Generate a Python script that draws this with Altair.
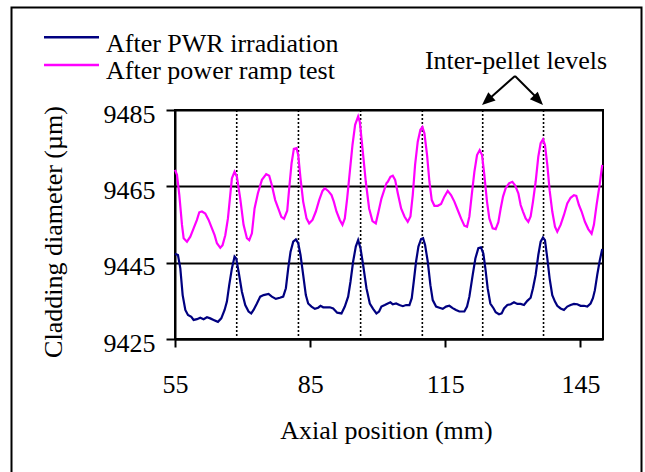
import altair as alt
import pandas as pd

# ---------------- data ----------------
pwr_x = [55.0, 55.66, 56.18, 56.70, 57.29, 57.88, 58.62, 59.13, 59.87, 60.61, 61.35, 62.09, 62.83, 63.57,
         64.53, 65.27, 66.01, 66.52, 67.04, 67.63, 68.22, 68.59, 69.11, 69.85, 70.59, 71.33, 71.92, 72.44,
         73.18, 73.92, 74.66, 75.76, 76.50, 77.39,
         78.28, 79.02, 79.61, 80.13, 80.65, 81.24, 81.83, 82.35, 82.86, 83.45, 84.04, 84.56, 85.30, 86.04,
         86.78, 87.30, 87.89, 88.63, 89.37, 90.11, 91.00, 91.95, 92.69, 93.43, 93.95, 94.54, 95.13, 95.65,
         96.17, 96.76, 97.50, 98.24, 98.97, 99.71, 100.30, 100.82, 101.56,
         102.23, 102.82, 103.34, 104.08, 104.82, 105.56, 106.30, 107.03, 107.55, 107.99, 108.51, 109.03,
         109.62, 110.06, 110.51, 111.10, 111.69, 112.21, 112.95, 113.69, 114.43, 115.16, 115.90, 116.64,
         117.38, 118.12, 119.23, 119.82, 120.34, 121.08, 121.67, 122.33, 122.92, 123.44, 123.89, 124.40,
         124.99, 125.73,
         126.18, 126.92, 127.51, 128.03, 128.77, 129.51, 130.25, 130.98, 131.72, 132.46, 133.20, 133.94,
         134.46, 135.05, 135.64, 136.16, 136.68, 137.12, 137.64, 138.15, 138.74, 139.34, 139.85, 140.59,
         141.33, 142.07, 142.81, 143.55, 144.29, 145.03, 145.77, 146.51, 147.24, 147.76, 148.20, 148.72,
         149.24, 149.83]
pwr_um = [9447.3, 9447.0, 9443.5, 9436.5, 9432.6, 9431.3, 9430.8, 9430.0, 9430.2, 9430.6, 9430.2, 9430.7, 9430.4, 9430.0,
          9429.5, 9430.4, 9432.6, 9434.8, 9439.2, 9443.5, 9446.6, 9446.1, 9442.7, 9437.4, 9433.9, 9432.2, 9431.7, 9432.6,
          9434.3, 9436.1, 9436.5, 9436.8, 9436.1, 9435.5,
          9435.8, 9436.1, 9438.3, 9443.5, 9447.9, 9450.5, 9451.1, 9450.1, 9447.0, 9441.8, 9436.5, 9434.3, 9433.5, 9432.9,
          9433.2, 9433.7, 9433.3, 9433.3, 9433.3, 9433.0, 9431.9, 9431.7, 9433.5, 9436.1, 9440.0, 9445.3, 9449.2, 9450.9,
          9448.8, 9444.4, 9438.3, 9434.3, 9432.9, 9431.7, 9432.2, 9433.5, 9433.9,
          9434.3, 9434.6, 9434.1, 9434.3, 9433.9, 9433.6, 9433.9, 9433.9, 9435.7, 9440.0, 9445.3, 9449.2,
          9451.2, 9451.4, 9449.6, 9445.3, 9439.1, 9435.2, 9433.5, 9433.2, 9432.9, 9433.5, 9433.7, 9433.1,
          9432.6, 9432.2, 9432.2, 9433.5, 9436.1, 9441.8, 9446.1, 9448.8, 9449.0, 9447.4, 9443.5, 9438.3,
          9434.3, 9433.0,
          9432.0, 9431.5, 9431.7, 9433.0, 9433.9, 9434.1, 9434.6, 9434.2, 9434.2, 9433.9, 9435.0, 9435.8,
          9438.3, 9441.8, 9447.0, 9450.5, 9451.6, 9450.9, 9446.1, 9440.9, 9436.5, 9434.8, 9433.7, 9433.0,
          9432.6, 9433.5, 9433.9, 9434.2, 9434.1, 9433.7, 9433.7, 9433.5, 9434.3, 9435.7, 9437.8, 9441.8,
          9445.3, 9448.6]

ramp_x = [55.0, 55.44, 55.96, 56.55, 56.92, 57.66, 58.40, 59.13, 59.87, 60.39, 60.98, 61.72, 62.46, 63.20,
          63.79, 64.31, 65.05, 65.56, 66.16, 66.75, 67.26, 67.63, 68.22, 68.74, 69.48, 70.22, 70.96, 71.48,
          72.07, 72.66, 73.40, 74.29, 75.25, 75.91, 76.50, 77.24, 77.98,
          78.6, 79.2, 79.91, 80.35, 80.87, 81.38, 81.98, 82.35, 82.86, 83.45, 84.19, 84.78, 85.52, 86.26,
          87.00, 87.74, 88.26, 89.00, 89.74, 90.25, 90.84, 91.58, 92.17, 92.69, 93.21, 93.80, 94.39, 94.98,
          95.65, 96.02, 96.61, 97.35, 98.09, 98.83, 99.57, 100.08, 100.82, 101.93,
          102.23, 102.82, 103.34, 103.86, 104.45, 105.19, 105.93, 106.66, 107.26, 107.77, 108.29, 108.88,
          109.47, 109.92, 110.36, 110.95, 111.47, 111.99, 112.58, 113.32, 114.06, 114.79, 115.53, 116.27,
          117.01, 117.75, 118.49, 119.23, 119.82, 120.34, 120.86, 121.45, 122.04, 122.63, 123.15, 123.66,
          124.25, 124.77, 125.51,
          126.18, 126.77, 127.29, 127.81, 128.40, 129.14, 129.88, 130.47, 131.21, 131.72, 132.24, 132.83,
          133.42, 133.94, 134.46, 135.05, 135.64, 136.16, 136.68, 137.12, 137.64, 138.15, 138.74, 139.34,
          139.85, 140.59, 141.33, 142.07, 142.81, 143.55, 144.07, 144.66, 145.25, 145.99, 146.73, 147.47,
          147.98, 148.57, 149.24, 149.83]
ramp_um = [9469.3, 9468.0, 9462.7, 9454.9, 9451.4, 9450.5, 9451.8, 9454.0, 9456.2, 9458.2, 9458.4, 9457.9, 9456.2, 9454.0,
           9452.2, 9450.1, 9448.9, 9449.6, 9452.2, 9456.6, 9462.7, 9467.1, 9468.8, 9467.5, 9461.8, 9454.9, 9451.4, 9450.9,
           9452.7, 9459.2, 9463.2, 9466.7, 9468.2, 9467.8, 9465.3, 9461.4, 9459.0,
           9457.0, 9456.5, 9458.6, 9464.5, 9471.0, 9474.8, 9475.0, 9473.2, 9467.1, 9461.0, 9456.6, 9455.3, 9456.2, 9458.4,
           9461.4, 9463.8, 9464.5, 9463.8, 9462.7, 9461.0, 9458.4, 9456.2, 9454.9, 9456.6, 9461.8, 9468.8, 9475.8, 9481.1,
           9483.3, 9481.9, 9475.0, 9466.2, 9459.2, 9455.9, 9455.3, 9457.9, 9461.8, 9465.8,
           9466.2, 9467.5, 9467.8, 9466.7, 9463.2, 9459.2, 9457.1, 9455.7, 9457.1, 9462.7, 9470.6, 9476.7,
           9479.8, 9480.5, 9478.9, 9473.2, 9466.2, 9461.4, 9459.9, 9459.9, 9460.4, 9462.3, 9463.8, 9462.7,
           9461.0, 9458.8, 9456.6, 9454.7, 9454.4, 9457.1, 9462.7, 9468.8, 9473.2, 9474.5, 9473.2, 9468.0,
           9461.0, 9456.6, 9454.0,
           9453.8, 9455.6, 9459.2, 9462.3, 9464.5, 9465.8, 9466.2, 9465.3, 9463.2, 9460.1, 9458.4, 9456.6,
           9455.7, 9457.1, 9461.0, 9466.2, 9472.8, 9476.3, 9477.3, 9475.8, 9470.6, 9464.0, 9458.4, 9454.4,
           9453.1, 9454.9, 9457.5, 9460.5, 9462.0, 9462.7, 9462.5, 9460.1, 9458.4, 9455.7, 9453.8, 9452.6,
           9454.9, 9460.1, 9465.3, 9470.6]

interpellet_mm = [68.7, 82.4, 96.2, 109.9, 123.3, 136.8]
series_names = ["After PWR irradiation", "After power ramp test"]
series_colors = ["#000080", "#FF00FF"]
x_ticks = [55, 85, 115, 145]
y_ticks = [9425, 9445, 9465, 9485]
annotation_text = "Inter-pellet levels"

# ---------------- build tables ----------------
df = pd.concat([
    pd.DataFrame({"pos": pwr_x, "dia": pwr_um, "series": series_names[0]}),
    pd.DataFrame({"pos": ramp_x, "dia": ramp_um, "series": series_names[1]}),
], ignore_index=True)
pellet_df = pd.DataFrame({"pos": interpellet_mm})
one = pd.DataFrame({"k": [0]})

FONT = "Liberation Serif"
FS = 26
W, H = 428, 229

x_scale = alt.Scale(domain=[55, 150], nice=False, zero=False)
y_scale = alt.Scale(domain=[9425, 9485], nice=False, zero=False)

lines = alt.Chart(df).mark_line(strokeWidth=2.2).encode(
    x=alt.X("pos:Q", scale=x_scale,
            axis=alt.Axis(values=x_ticks, title="Axial position (mm)", grid=False, format="d",
                          tickSize=8, labelPadding=45.5, labelBaseline="alphabetic",
                          labelFlush=False, labelOverlap=False,
                          titleX=211, titleY=99, titleBaseline="alphabetic", titleAlign="center")),
    y=alt.Y("dia:Q", scale=y_scale,
            axis=alt.Axis(values=y_ticks, title="Cladding diameter (µm)", grid=True, format="d",
                          tickSize=9, labelPadding=11, labelBaseline="alphabetic", labelOffset=12,
                          labelOverlap=False,
                          titleX=-114, titleY=121.5, titleAngle=270, titleBaseline="alphabetic",
                          titleAlign="center")),
    color=alt.Color("series:N", scale=alt.Scale(domain=series_names, range=series_colors), legend=None),
)

dotted = alt.Chart(pellet_df).mark_rule(color="black", strokeWidth=1.6, strokeDash=[2, 2]).encode(
    x=alt.X("pos:Q", scale=x_scale)
)

border = alt.Chart(one).mark_rect(filled=False, color="black", strokeWidth=2).encode(
    x=alt.value(-163.5), x2=alt.value(466.5), y=alt.value(-102.5), y2=alt.value(372)
)

leg_line1 = alt.Chart(one).mark_rule(color=series_colors[0], strokeWidth=2.5).encode(
    x=alt.value(-131), x2=alt.value(-76), y=alt.value(-72.7))
leg_line2 = alt.Chart(one).mark_rule(color=series_colors[1], strokeWidth=2.5).encode(
    x=alt.value(-131), x2=alt.value(-76), y=alt.value(-45))
leg_text1 = alt.Chart(one).mark_text(align="left", baseline="alphabetic", font=FONT, fontSize=FS,
                                     color="black").encode(
    x=alt.value(-69), y=alt.value(-57.7), text=alt.value(series_names[0]))
leg_text2 = alt.Chart(one).mark_text(align="left", baseline="alphabetic", font=FONT, fontSize=FS,
                                     color="black").encode(
    x=alt.value(-69), y=alt.value(-30.7), text=alt.value(series_names[1]))

ann_text = alt.Chart(one).mark_text(align="center", baseline="alphabetic", font=FONT, fontSize=FS,
                                    color="black").encode(
    x=alt.value(341), y=alt.value(-41), text=alt.value(annotation_text))
arrow_l = alt.Chart(one).mark_rule(color="black", strokeWidth=2).encode(
    x=alt.value(340), y=alt.value(-34), x2=alt.value(314), y2=alt.value(-11))
arrow_r = alt.Chart(one).mark_rule(color="black", strokeWidth=2).encode(
    x=alt.value(340), y=alt.value(-34), x2=alt.value(362), y2=alt.value(-12))
HEAD = "M0,0L-1,-2.4L1,-2.4Z"
head_l = alt.Chart(one).mark_point(shape=HEAD, filled=True, color="black", opacity=1, size=121,
                                   angle=48.7, strokeWidth=0).encode(x=alt.value(307), y=alt.value(-5))
head_r = alt.Chart(one).mark_point(shape=HEAD, filled=True, color="black", opacity=1, size=121,
                                   angle=316, strokeWidth=0).encode(x=alt.value(368), y=alt.value(-5))

chart = alt.layer(
    dotted, lines, border, leg_line1, leg_line2, leg_text1, leg_text2,
    ann_text, arrow_l, arrow_r, head_l, head_r
).properties(
    width=W, height=H,
    padding={"left": 175, "top": 110, "right": 42, "bottom": 133},
    autosize=alt.AutoSizeParams(type="none"),
    background="white",
).configure_axis(
    labelFont=FONT, labelFontSize=FS, labelColor="black",
    titleFont=FONT, titleFontSize=FS, titleColor="black", titleFontWeight="normal",
    domainColor="black", domainWidth=2, tickColor="black", tickWidth=2,
    gridColor="black", gridWidth=2, gridOpacity=1,
).configure_view(stroke="black", strokeWidth=2)

chart.save("out.html", embed_options={"renderer": "svg", "actions": False})
